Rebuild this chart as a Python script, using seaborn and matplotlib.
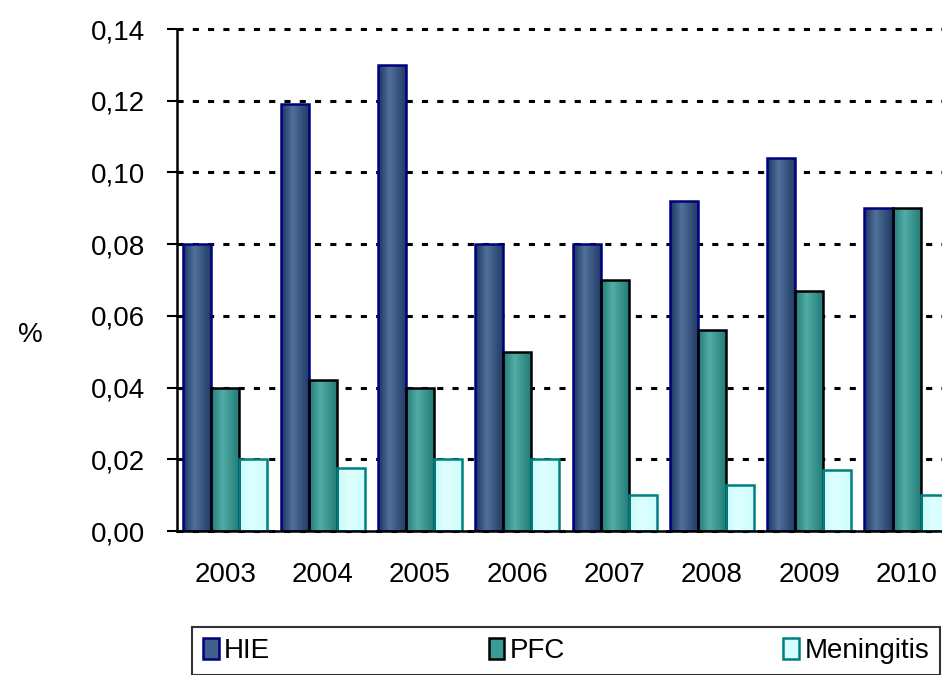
import numpy as np
import pandas as pd
import matplotlib
matplotlib.use('Agg')
import matplotlib.pyplot as plt
from matplotlib.colors import LinearSegmentedColormap
from matplotlib.patches import Patch
from matplotlib.ticker import FuncFormatter, FixedLocator
import seaborn as sns

# данные по годам
years = ['2003', '2004', '2005', '2006', '2007', '2008', '2009', '2010']
causes = ['HIE', 'PFC', 'Meningitis']
hie = [0.080, 0.119, 0.130, 0.080, 0.080, 0.092, 0.104, 0.090]
pfc = [0.040, 0.042, 0.040, 0.050, 0.070, 0.056, 0.067, 0.090]
meningitis = [0.020, 0.0175, 0.020, 0.020, 0.010, 0.0127, 0.017, 0.010]

df = pd.DataFrame({'year': years * 3,
                   'cause': [c for c in causes for _ in years],
                   'value': hie + pfc + meningitis})

# цвета: средний тон, градиент (темный-светлый-темный) и обводка
mid_colors = ['#40608B', '#3A9A95', '#D6FFFF']
grad_colors = [['#1A3260', '#51709A', '#1E3862'],
               ['#1D7B75', '#54ACA7', '#1E7A74'],
               ['#C8FAFA', '#DEFFFF', '#CFFDFD']]
edge_colors = ['#000080', '#000000', '#008080']

sns.set_style('white')
plt.rcParams['font.family'] = ['Liberation Sans', 'DejaVu Sans']
plt.rcParams['text.color'] = 'black'
plt.rcParams['xtick.color'] = 'black'
plt.rcParams['ytick.color'] = 'black'

fig = plt.figure(figsize=(9.42, 6.75), dpi=100)
ax = fig.add_axes([0.1876, 0.2133, 0.8264, 0.7437])

sns.barplot(data=df, x='year', y='value', hue='cause', hue_order=causes,
            palette=mid_colors, saturation=1, width=0.865, legend=False, ax=ax)

ax.set_xlim(-0.5, len(years) - 0.5)
ax.set_ylim(0, 0.14)

# градиентная заливка столбиков
grad = np.linspace(0, 1, 256).reshape(1, -1)
for i, cont in enumerate(ax.containers):
    cmap = LinearSegmentedColormap.from_list(
        f'g{i}', [(0, grad_colors[i][0]), (0.4, grad_colors[i][1]), (1, grad_colors[i][2])])
    for p in cont.patches:
        x0, y0 = p.get_x(), p.get_y()
        w, h = p.get_width(), p.get_height()
        im = ax.imshow(grad, extent=[x0, x0 + w, y0, y0 + h], aspect='auto',
                       cmap=cmap, origin='lower', zorder=1.5)
        im.set_clip_path(p)
        p.set_facecolor('none')
        p.set_edgecolor(edge_colors[i])
        p.set_linewidth(1.8)
        p.set_zorder(2)

ax.set_xlim(-0.5, len(years) - 0.5)
ax.set_ylim(0, 0.14)

# сетка пунктиром
ax.set_axisbelow(True)
ax.yaxis.grid(True, color='black', linestyle=(0, (2, 3)), linewidth=2.2)
ax.xaxis.grid(False)
for line in ax.get_ygridlines():
    line.set_clip_on(False)

ax.set_yticks(np.arange(0, 0.141, 0.02))
ax.yaxis.set_major_formatter(FuncFormatter(lambda v, pos: f'{v:.2f}'.replace('.', ',')))

# деления на границах категорий, подписи по центрам
ax.xaxis.set_major_locator(FixedLocator(np.arange(-0.5, len(years), 1)))
ax.xaxis.set_minor_locator(FixedLocator(np.arange(len(years))))
ax.set_xticklabels([], minor=False)
ax.set_xticklabels(years, minor=True)
ax.tick_params(axis='x', which='major', direction='out', length=6.5, width=1.5, color='black')
ax.tick_params(axis='x', which='minor', length=0, pad=22, labelsize=20, labelcolor='black')
ax.tick_params(axis='y', direction='out', length=7.5, width=1.5, color='black',
               pad=15, labelsize=20, labelcolor='black', left=True)

ax.set_xlabel('')
ax.set_ylabel('')
for side in ['top', 'right']:
    ax.spines[side].set_visible(False)
for side in ['left', 'bottom']:
    ax.spines[side].set_color('black')
    ax.spines[side].set_linewidth(1.8)

fig.text(30 / 942, 1 - 335 / 675, '%', ha='center', va='center', fontsize=20, color='black')

handles = [Patch(facecolor=mid_colors[i], edgecolor=edge_colors[i], linewidth=1.8)
           for i in range(3)]
leg = fig.legend(handles, causes, ncol=3, mode='expand', loc='upper left',
                 bbox_to_anchor=(0.204, -0.1, 0.794, 0.171), fontsize=20,
                 frameon=True, fancybox=False, edgecolor='black', borderaxespad=0,
                 handlelength=0.55, handleheight=0.75, handletextpad=0.2)
leg.get_frame().set_linewidth(1.5)
for t in leg.get_texts():
    t.set_color('black')

fig.savefig('out.png', dpi=100)
